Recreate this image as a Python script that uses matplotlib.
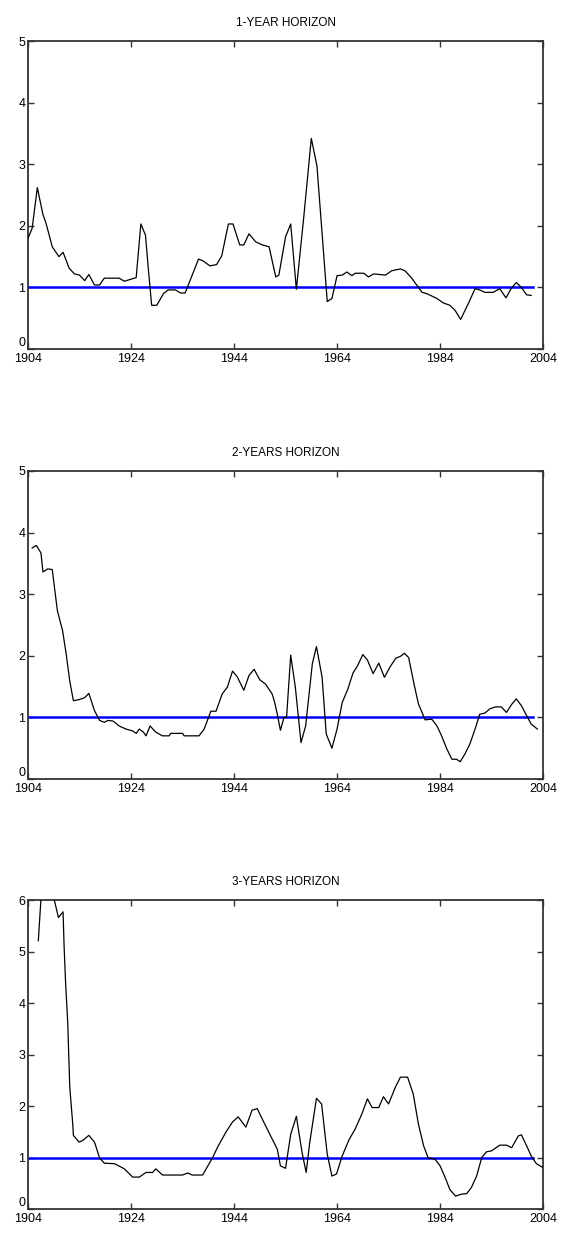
import matplotlib
matplotlib.use("Agg")
import matplotlib.pyplot as plt

plt.rcParams['font.family'] = ['Liberation Sans Narrow', 'Liberation Sans', 'DejaVu Sans']

# 1-year horizon
yrs1 = [1904.0, 1904.8, 1905.8, 1906.9, 1907.5, 1908.7, 1910.0, 1910.8, 1912.0, 1913.0,
        1914.0, 1915.0, 1915.8, 1916.9, 1917.9, 1918.8, 1921.7, 1922.7, 1925.0, 1925.9,
        1926.8, 1927.4, 1928.0, 1929.0, 1930.3, 1931.2, 1932.6, 1933.6, 1934.5, 1935.5,
        1937.1, 1938.0, 1939.3, 1940.6, 1941.6, 1942.9, 1943.8, 1945.1, 1945.9, 1946.9,
        1948.2, 1949.5, 1950.8, 1952.1, 1952.7, 1954.0, 1955.0, 1956.1, 1957.5, 1959.0,
        1960.1, 1962.1, 1963.0, 1964.0, 1965.0, 1965.9, 1966.9, 1967.5, 1969.2, 1970.1,
        1971.1, 1973.4, 1974.6, 1976.3, 1977.2, 1978.5, 1980.5, 1981.4, 1983.4, 1984.6,
        1985.9, 1986.9, 1988.0, 1989.5, 1990.8, 1991.7, 1992.7, 1994.3, 1995.6, 1996.8,
        1997.8, 1998.8, 1999.8, 2000.8, 2001.7]
vals1 = [1.80, 1.96, 2.62, 2.18, 2.04, 1.66, 1.50, 1.57, 1.31, 1.22,
         1.20, 1.11, 1.21, 1.04, 1.04, 1.15, 1.15, 1.10, 1.16, 2.03,
         1.85, 1.26, 0.71, 0.71, 0.90, 0.96, 0.96, 0.91, 0.91, 1.12,
         1.46, 1.43, 1.35, 1.37, 1.51, 2.03, 2.03, 1.69, 1.69, 1.87,
         1.74, 1.69, 1.66, 1.17, 1.20, 1.82, 2.03, 0.97, 2.11, 3.42,
         2.97, 0.77, 0.82, 1.19, 1.20, 1.25, 1.19, 1.23, 1.23, 1.17,
         1.22, 1.20, 1.27, 1.30, 1.27, 1.15, 0.92, 0.90, 0.82, 0.75,
         0.71, 0.63, 0.48, 0.74, 0.98, 0.96, 0.92, 0.92, 0.98, 0.83,
         0.98, 1.08, 1.00, 0.88, 0.87]

# 2-years horizon
yrs2 = [1904.8, 1905.6, 1906.5, 1906.9, 1907.8, 1908.7, 1909.1, 1909.7, 1910.7, 1911.4,
        1912.1, 1912.8, 1914.0, 1915.0, 1915.8, 1916.9, 1917.9, 1918.8, 1919.5, 1920.5,
        1921.7, 1923.0, 1924.3, 1925.0, 1925.6, 1926.4, 1926.9, 1927.7, 1928.8, 1930.1,
        1931.4, 1931.7, 1934.0, 1934.3, 1937.2, 1938.2, 1939.5, 1940.5, 1941.7, 1942.7,
        1943.7, 1944.6, 1945.9, 1946.9, 1947.9, 1949.0, 1950.1, 1951.4, 1951.9, 1952.4,
        1953.0, 1953.7, 1954.2, 1955.0, 1955.9, 1957.0, 1957.9, 1959.2, 1960.0, 1961.1,
        1961.9, 1963.0, 1964.0, 1965.0, 1966.1, 1967.1, 1968.0, 1969.0, 1969.9, 1971.0,
        1972.1, 1973.2, 1974.3, 1975.4, 1976.3, 1977.1, 1977.9, 1979.0, 1979.8, 1981.1,
        1982.4, 1983.4, 1984.3, 1985.3, 1986.3, 1987.2, 1987.9, 1988.8, 1989.8, 1990.8,
        1991.7, 1992.7, 1993.7, 1994.8, 1995.9, 1996.9, 1997.9, 1998.8, 1999.8, 2000.8,
        2001.7, 2002.9]
vals2 = [3.75, 3.79, 3.67, 3.36, 3.41, 3.40, 3.13, 2.73, 2.41, 2.03,
         1.59, 1.27, 1.29, 1.32, 1.39, 1.11, 0.95, 0.92, 0.95, 0.94,
         0.86, 0.81, 0.78, 0.74, 0.81, 0.76, 0.70, 0.86, 0.76, 0.70,
         0.70, 0.74, 0.74, 0.70, 0.70, 0.81, 1.10, 1.10, 1.38, 1.49,
         1.75, 1.66, 1.44, 1.68, 1.78, 1.61, 1.54, 1.38, 1.24, 1.05,
         0.79, 1.00, 1.00, 2.01, 1.49, 0.59, 0.86, 1.87, 2.15, 1.65,
         0.73, 0.50, 0.81, 1.24, 1.46, 1.72, 1.84, 2.02, 1.93, 1.71,
         1.88, 1.65, 1.82, 1.96, 1.99, 2.04, 1.97, 1.52, 1.22, 0.96,
         0.97, 0.86, 0.70, 0.49, 0.32, 0.32, 0.28, 0.40, 0.57, 0.81,
         1.05, 1.07, 1.14, 1.17, 1.17, 1.08, 1.21, 1.30, 1.19, 1.03,
         0.89, 0.81]

# 3-years horizon (values above 6 run off the top of the axis)
yrs3 = [1906.0, 1906.2, 1906.5, 1907.5, 1908.5, 1909.1, 1909.9, 1910.8, 1911.0, 1911.3,
        1911.7, 1912.1, 1912.7, 1912.8, 1913.9, 1914.6, 1915.8, 1916.9, 1917.9, 1918.8,
        1920.8, 1922.7, 1924.3, 1925.6, 1926.9, 1928.2, 1928.8, 1930.1, 1934.0, 1935.0,
        1935.9, 1937.9, 1939.8, 1940.8, 1942.4, 1943.7, 1944.8, 1946.3, 1947.5, 1948.5,
        1950.1, 1951.4, 1952.4, 1953.0, 1954.0, 1955.0, 1956.1, 1957.2, 1958.0, 1958.7,
        1960.0, 1961.0, 1962.1, 1963.0, 1963.9, 1965.0, 1966.3, 1967.5, 1968.8, 1969.9,
        1970.8, 1972.1, 1973.0, 1974.0, 1975.3, 1976.3, 1977.7, 1978.8, 1979.8, 1980.8,
        1981.7, 1983.0, 1984.0, 1985.0, 1985.9, 1987.0, 1988.2, 1989.2, 1990.1, 1991.1,
        1992.1, 1993.0, 1994.0, 1995.6, 1996.9, 1997.9, 1999.2, 1999.8, 2000.8, 2001.7,
        2002.7, 2003.9]
vals3 = [5.21, 5.54, 6.00, 6.60, 6.50, 6.00, 5.66, 5.77, 5.10, 4.37,
         3.63, 2.37, 1.62, 1.43, 1.30, 1.33, 1.43, 1.30, 0.99, 0.89,
         0.88, 0.78, 0.62, 0.62, 0.71, 0.71, 0.78, 0.66, 0.66, 0.70,
         0.66, 0.66, 0.99, 1.20, 1.49, 1.69, 1.79, 1.59, 1.92, 1.95,
         1.62, 1.36, 1.16, 0.84, 0.79, 1.45, 1.80, 1.10, 0.71, 1.29,
         2.15, 2.04, 1.06, 0.64, 0.68, 1.03, 1.34, 1.55, 1.84, 2.14,
         1.97, 1.97, 2.18, 2.04, 2.36, 2.56, 2.56, 2.23, 1.65, 1.23,
         0.99, 0.97, 0.84, 0.61, 0.38, 0.25, 0.29, 0.30, 0.42, 0.64,
         1.00, 1.11, 1.13, 1.24, 1.24, 1.19, 1.42, 1.44, 1.23, 1.03,
         0.88, 0.81]

titles = ['1-YEAR HORIZON', '2-YEARS HORIZON', '3-YEARS HORIZON']
ymaxes = [5, 5, 6]
ref_level = 1.0
ref_years = [1904, 2002]
xticks = [1904, 1924, 1944, 1964, 1984, 2004]

fig = plt.figure(figsize=(5.61, 12.39), dpi=100)
boxes = [[0.050, 0.7183, 0.918, 0.2486],
         [0.050, 0.3713, 0.918, 0.2486],
         [0.050, 0.0242, 0.918, 0.2494]]

series = [(yrs1, vals1), (yrs2, vals2), (yrs3, vals3)]
for i in range(3):
    ax = fig.add_axes(boxes[i])
    x, y = series[i]
    ax.plot(ref_years, [ref_level, ref_level], color='#0000ff', lw=1.8, zorder=2)
    ax.plot(x, y, color='black', lw=0.9, zorder=3)
    ax.set_xlim(1904, 2004)
    ax.set_ylim(0, ymaxes[i])
    ax.set_xticks(xticks)
    ax.set_yticks(range(0, ymaxes[i] + 1))
    ax.tick_params(direction='in', length=4, width=1, top=True, right=True,
                   labelsize=9, color='#333333')
    ax.tick_params(axis='x', pad=3)
    ax.tick_params(axis='y', pad=2)
    # nudge the "0" label up a little, as in the original, so it clears "1904"
    ax.get_yticklabels()[0].set_verticalalignment('bottom')
    for s in ax.spines.values():
        s.set_color('#333333')
        s.set_linewidth(1.3)
    ax.set_title(titles[i], fontsize=8.5, pad=11)

fig.savefig('out.png', dpi=100)
